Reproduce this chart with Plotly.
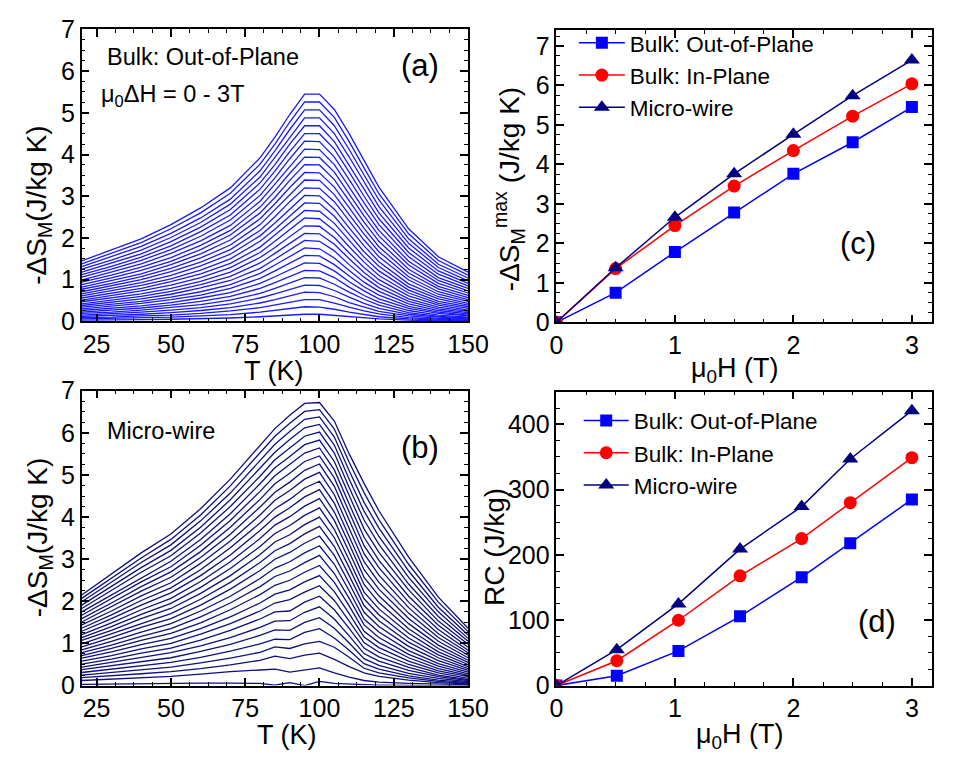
import plotly.graph_objects as go

W, H = 954, 767
FONT = "Liberation Sans, Arial, Helvetica, sans-serif"

# ---------------- data ----------------
# temperature grid (K) for panels (a) and (b)
T = [20, 30, 40, 50, 60, 70, 80, 85, 90, 95, 100, 105, 110, 115, 120, 130, 140, 150]
# applied field change of each curve (T)
FIELDS = [0.1, 0.2, 0.3, 0.4, 0.5, 0.6, 0.7, 0.8, 0.9, 1.0,
          1.1, 1.2, 1.3, 1.4, 1.5, 1.6, 1.7, 1.8, 1.9, 2.0,
          2.1, 2.2, 2.3, 2.4, 2.5, 2.6, 2.7, 2.8, 2.9, 3.0]

# (a) Bulk out-of-plane: -dS_M (J/kg K), one row per field
SA = [
    [0.03, 0.03, 0.04, 0.05, 0.06, 0.08, 0.11, 0.13, 0.15, 0.17, 0.17, 0.14, 0.11, 0.08, 0.06, 0.03, 0.01, 0.01],
    [0.06, 0.07, 0.08, 0.10, 0.13, 0.16, 0.22, 0.26, 0.30, 0.35, 0.34, 0.29, 0.22, 0.16, 0.11, 0.06, 0.03, 0.02],
    [0.09, 0.10, 0.13, 0.15, 0.19, 0.25, 0.33, 0.39, 0.46, 0.52, 0.52, 0.44, 0.34, 0.25, 0.18, 0.09, 0.05, 0.03],
    [0.12, 0.14, 0.17, 0.21, 0.26, 0.33, 0.44, 0.52, 0.61, 0.70, 0.69, 0.59, 0.45, 0.34, 0.24, 0.13, 0.07, 0.05],
    [0.15, 0.18, 0.22, 0.27, 0.33, 0.42, 0.56, 0.66, 0.76, 0.87, 0.86, 0.74, 0.58, 0.43, 0.31, 0.17, 0.10, 0.06],
    [0.19, 0.22, 0.27, 0.33, 0.40, 0.51, 0.67, 0.79, 0.92, 1.05, 1.04, 0.89, 0.70, 0.53, 0.39, 0.21, 0.12, 0.08],
    [0.22, 0.27, 0.32, 0.39, 0.48, 0.60, 0.79, 0.93, 1.08, 1.22, 1.21, 1.05, 0.82, 0.62, 0.46, 0.26, 0.15, 0.10],
    [0.26, 0.31, 0.37, 0.45, 0.56, 0.69, 0.91, 1.07, 1.24, 1.40, 1.39, 1.21, 0.95, 0.73, 0.54, 0.31, 0.19, 0.13],
    [0.30, 0.36, 0.43, 0.52, 0.63, 0.79, 1.03, 1.21, 1.39, 1.58, 1.57, 1.36, 1.09, 0.83, 0.63, 0.36, 0.22, 0.15],
    [0.34, 0.41, 0.48, 0.58, 0.71, 0.88, 1.15, 1.35, 1.55, 1.76, 1.74, 1.52, 1.22, 0.94, 0.72, 0.42, 0.26, 0.18],
    [0.38, 0.46, 0.54, 0.65, 0.80, 0.98, 1.27, 1.49, 1.72, 1.94, 1.92, 1.69, 1.36, 1.06, 0.81, 0.48, 0.30, 0.21],
    [0.42, 0.51, 0.60, 0.72, 0.88, 1.08, 1.40, 1.63, 1.88, 2.11, 2.10, 1.85, 1.50, 1.17, 0.90, 0.54, 0.34, 0.24],
    [0.47, 0.56, 0.66, 0.79, 0.96, 1.18, 1.53, 1.77, 2.04, 2.29, 2.28, 2.01, 1.64, 1.29, 1.00, 0.61, 0.39, 0.27],
    [0.51, 0.62, 0.73, 0.87, 1.05, 1.29, 1.65, 1.92, 2.20, 2.48, 2.46, 2.18, 1.79, 1.42, 1.10, 0.68, 0.43, 0.31],
    [0.56, 0.67, 0.79, 0.95, 1.14, 1.39, 1.78, 2.07, 2.37, 2.66, 2.64, 2.35, 1.94, 1.54, 1.21, 0.75, 0.48, 0.35],
    [0.61, 0.73, 0.86, 1.02, 1.23, 1.50, 1.92, 2.21, 2.53, 2.84, 2.83, 2.52, 2.09, 1.67, 1.32, 0.82, 0.54, 0.39],
    [0.66, 0.79, 0.93, 1.10, 1.33, 1.61, 2.05, 2.36, 2.70, 3.02, 3.01, 2.69, 2.24, 1.81, 1.43, 0.90, 0.59, 0.43],
    [0.71, 0.85, 1.00, 1.19, 1.42, 1.72, 2.18, 2.51, 2.87, 3.20, 3.19, 2.87, 2.40, 1.95, 1.55, 0.99, 0.65, 0.48],
    [0.77, 0.91, 1.07, 1.27, 1.52, 1.83, 2.32, 2.67, 3.04, 3.39, 3.38, 3.04, 2.56, 2.09, 1.67, 1.07, 0.71, 0.52],
    [0.82, 0.98, 1.14, 1.36, 1.62, 1.95, 2.46, 2.82, 3.21, 3.57, 3.56, 3.22, 2.72, 2.23, 1.79, 1.16, 0.78, 0.57],
    [0.88, 1.04, 1.22, 1.44, 1.72, 2.07, 2.60, 2.97, 3.38, 3.76, 3.75, 3.40, 2.89, 2.38, 1.92, 1.25, 0.84, 0.62],
    [0.94, 1.11, 1.30, 1.53, 1.82, 2.18, 2.74, 3.13, 3.55, 3.94, 3.93, 3.58, 3.05, 2.53, 2.05, 1.35, 0.91, 0.68],
    [0.99, 1.18, 1.38, 1.63, 1.93, 2.30, 2.88, 3.29, 3.72, 4.13, 4.12, 3.76, 3.22, 2.68, 2.18, 1.44, 0.98, 0.73],
    [1.06, 1.25, 1.46, 1.72, 2.04, 2.43, 3.02, 3.44, 3.90, 4.32, 4.31, 3.94, 3.40, 2.84, 2.32, 1.55, 1.05, 0.79],
    [1.12, 1.32, 1.54, 1.81, 2.15, 2.55, 3.17, 3.60, 4.07, 4.50, 4.50, 4.13, 3.58, 3.00, 2.46, 1.65, 1.13, 0.85],
    [1.18, 1.40, 1.62, 1.91, 2.26, 2.68, 3.32, 3.76, 4.25, 4.69, 4.69, 4.31, 3.75, 3.17, 2.60, 1.76, 1.21, 0.91],
    [1.25, 1.47, 1.71, 2.01, 2.37, 2.81, 3.46, 3.93, 4.42, 4.88, 4.88, 4.50, 3.94, 3.34, 2.75, 1.87, 1.29, 0.97],
    [1.31, 1.55, 1.80, 2.11, 2.48, 2.93, 3.61, 4.09, 4.60, 5.07, 5.07, 4.69, 4.12, 3.51, 2.91, 1.98, 1.37, 1.04],
    [1.38, 1.63, 1.89, 2.22, 2.60, 3.07, 3.77, 4.25, 4.78, 5.26, 5.26, 4.89, 4.31, 3.68, 3.06, 2.10, 1.46, 1.11],
    [1.45, 1.71, 1.98, 2.32, 2.72, 3.20, 3.92, 4.42, 4.96, 5.45, 5.45, 5.08, 4.50, 3.86, 3.22, 2.22, 1.55, 1.18],
]

# (b) Micro-wire: -dS_M (J/kg K), one row per field
SB = [
    [0.03, 0.04, 0.04, 0.05, 0.06, 0.06, 0.05, 0.01, 0.07, 0.00, 0.10, 0.05, 0.03, 0.02, 0.01, 0.00, 0.00, 0.00],
    [0.12, 0.15, 0.19, 0.22, 0.27, 0.33, 0.37, 0.39, 0.32, 0.37, 0.42, 0.30, 0.20, 0.12, 0.08, 0.05, 0.03, 0.02],
    [0.19, 0.23, 0.28, 0.33, 0.40, 0.49, 0.60, 0.70, 0.64, 0.72, 0.77, 0.62, 0.45, 0.30, 0.22, 0.13, 0.07, 0.04],
    [0.25, 0.31, 0.38, 0.44, 0.54, 0.65, 0.79, 0.92, 0.88, 0.99, 1.05, 0.91, 0.67, 0.41, 0.30, 0.18, 0.10, 0.05],
    [0.31, 0.39, 0.47, 0.55, 0.67, 0.82, 0.99, 1.10, 1.09, 1.26, 1.35, 1.13, 0.84, 0.52, 0.39, 0.23, 0.13, 0.07],
    [0.38, 0.47, 0.57, 0.66, 0.81, 0.98, 1.19, 1.32, 1.31, 1.50, 1.61, 1.36, 1.01, 0.64, 0.48, 0.29, 0.17, 0.09],
    [0.44, 0.55, 0.67, 0.78, 0.94, 1.14, 1.38, 1.53, 1.54, 1.74, 1.87, 1.58, 1.18, 0.76, 0.58, 0.36, 0.21, 0.12],
    [0.51, 0.63, 0.77, 0.89, 1.08, 1.31, 1.58, 1.75, 1.77, 1.98, 2.12, 1.80, 1.36, 0.89, 0.68, 0.43, 0.25, 0.14],
    [0.58, 0.71, 0.87, 1.00, 1.22, 1.47, 1.77, 1.96, 2.04, 2.22, 2.37, 2.02, 1.53, 1.02, 0.79, 0.50, 0.30, 0.17],
    [0.65, 0.80, 0.97, 1.12, 1.35, 1.63, 1.96, 2.17, 2.27, 2.46, 2.61, 2.23, 1.71, 1.15, 0.90, 0.58, 0.35, 0.21],
    [0.71, 0.88, 1.07, 1.24, 1.49, 1.80, 2.16, 2.38, 2.50, 2.69, 2.85, 2.45, 1.89, 1.29, 1.02, 0.66, 0.40, 0.24],
    [0.78, 0.96, 1.17, 1.35, 1.63, 1.96, 2.35, 2.59, 2.72, 2.92, 3.09, 2.66, 2.07, 1.44, 1.14, 0.74, 0.46, 0.28],
    [0.85, 1.05, 1.27, 1.47, 1.77, 2.12, 2.54, 2.79, 2.94, 3.15, 3.32, 2.88, 2.25, 1.58, 1.27, 0.83, 0.52, 0.32],
    [0.92, 1.14, 1.38, 1.59, 1.91, 2.29, 2.73, 3.00, 3.16, 3.38, 3.55, 3.09, 2.43, 1.74, 1.40, 0.93, 0.59, 0.36],
    [0.99, 1.23, 1.48, 1.71, 2.05, 2.45, 2.92, 3.20, 3.37, 3.60, 3.78, 3.30, 2.61, 1.90, 1.54, 1.03, 0.66, 0.40],
    [1.07, 1.31, 1.59, 1.83, 2.19, 2.61, 3.11, 3.41, 3.58, 3.82, 4.00, 3.51, 2.80, 2.06, 1.68, 1.13, 0.73, 0.45],
    [1.14, 1.40, 1.69, 1.95, 2.33, 2.78, 3.30, 3.61, 3.80, 4.04, 4.22, 3.71, 2.98, 2.22, 1.82, 1.24, 0.80, 0.50],
    [1.21, 1.49, 1.80, 2.07, 2.47, 2.94, 3.49, 3.81, 4.01, 4.26, 4.44, 3.92, 3.17, 2.40, 1.97, 1.35, 0.88, 0.55],
    [1.29, 1.59, 1.91, 2.20, 2.61, 3.10, 3.68, 4.00, 4.22, 4.48, 4.65, 4.12, 3.36, 2.57, 2.13, 1.47, 0.96, 0.60],
    [1.36, 1.68, 2.02, 2.32, 2.75, 3.27, 3.86, 4.20, 4.42, 4.69, 4.85, 4.33, 3.54, 2.75, 2.29, 1.59, 1.05, 0.66],
    [1.44, 1.77, 2.13, 2.44, 2.90, 3.43, 4.05, 4.40, 4.63, 4.90, 5.06, 4.53, 3.73, 2.94, 2.45, 1.72, 1.14, 0.72],
    [1.51, 1.87, 2.24, 2.57, 3.04, 3.59, 4.24, 4.59, 4.83, 5.11, 5.26, 4.73, 3.93, 3.13, 2.62, 1.85, 1.23, 0.78],
    [1.59, 1.96, 2.35, 2.70, 3.18, 3.76, 4.42, 4.79, 5.04, 5.32, 5.45, 4.93, 4.12, 3.32, 2.80, 1.98, 1.33, 0.84],
    [1.67, 2.06, 2.46, 2.82, 3.33, 3.92, 4.61, 4.98, 5.24, 5.52, 5.64, 5.12, 4.31, 3.52, 2.97, 2.12, 1.43, 0.91],
    [1.75, 2.15, 2.57, 2.95, 3.47, 4.08, 4.79, 5.17, 5.44, 5.72, 5.83, 5.32, 4.51, 3.72, 3.16, 2.27, 1.53, 0.98],
    [1.83, 2.25, 2.69, 3.08, 3.62, 4.25, 4.97, 5.36, 5.64, 5.92, 6.02, 5.52, 4.70, 3.93, 3.35, 2.41, 1.64, 1.05],
    [1.91, 2.35, 2.80, 3.21, 3.76, 4.41, 5.16, 5.54, 5.84, 6.12, 6.20, 5.71, 4.90, 4.14, 3.54, 2.57, 1.75, 1.12],
    [1.99, 2.45, 2.92, 3.34, 3.91, 4.57, 5.34, 5.73, 6.03, 6.32, 6.38, 5.90, 5.10, 4.35, 3.74, 2.72, 1.86, 1.20],
    [2.07, 2.55, 3.03, 3.47, 4.05, 4.74, 5.52, 5.92, 6.23, 6.51, 6.55, 6.09, 5.30, 4.58, 3.94, 2.88, 1.98, 1.28],
    [2.15, 2.65, 3.15, 3.60, 4.20, 4.90, 5.70, 6.10, 6.42, 6.70, 6.72, 6.28, 5.50, 4.80, 4.15, 3.05, 2.10, 1.36],
]

# (c) maximum entropy change vs field
H_C = [0, 0.5, 1.0, 1.5, 2.0, 2.5, 3.0]
SMAX_OOP = [0, 0.75, 1.78, 2.78, 3.76, 4.56, 5.45]
SMAX_IP = [0, 1.36, 2.45, 3.45, 4.35, 5.22, 6.04]
SMAX_MW = [0, 1.38, 2.66, 3.76, 4.76, 5.74, 6.64]

# (d) refrigerant capacity vs field
H_D = [0, 0.51, 1.03, 1.55, 2.07, 2.48, 3.0]
RC_OOP = [0, 15, 53, 106, 166, 218, 285]
RC_IP = [0, 38, 100, 168, 225, 280, 349]
RC_MW = [0, 55, 125, 209, 274, 347, 421]

SERIES_NAMES = ["Bulk: Out-of-Plane", "Bulk: In-Plane", "Micro-wire"]

# ---------------- styles ----------------
C_A = "rgb(25,25,255)"
C_B = "rgb(15,15,125)"
C_OOP = "#0000ff"
C_IP = "#ff0000"
C_MW = "#000080"


def px_x(p):
    return p / W


def px_y(p):
    return 1 - p / H


fig = go.Figure()

for row in SA:
    fig.add_trace(go.Scatter(x=T, y=row, mode="lines", line=dict(color=C_A, width=1.3),
                             showlegend=False, xaxis="x", yaxis="y", hoverinfo="skip"))
for row in SB:
    fig.add_trace(go.Scatter(x=T, y=row, mode="lines", line=dict(color=C_B, width=1.3),
                             showlegend=False, xaxis="x2", yaxis="y2", hoverinfo="skip"))

specs = [
    (SMAX_OOP, RC_OOP, C_OOP, "square", 12),
    (SMAX_IP, RC_IP, C_IP, "circle", 13),
    (SMAX_MW, RC_MW, C_MW, "triangle-up", 14),
]
for (sm, rc, col, sym, ms), name in zip(specs, SERIES_NAMES):
    fig.add_trace(go.Scatter(x=H_C, y=sm, mode="lines+markers", name=name,
                             line=dict(color=col, width=1.5),
                             marker=dict(symbol=sym, size=ms, color=col),
                             xaxis="x3", yaxis="y3", legend="legend"))
for (sm, rc, col, sym, ms), name in zip(specs, SERIES_NAMES):
    fig.add_trace(go.Scatter(x=H_D, y=rc, mode="lines+markers", name=name,
                             line=dict(color=col, width=1.5),
                             marker=dict(symbol=sym, size=ms, color=col),
                             xaxis="x4", yaxis="y4", legend="legend2"))

TICKFONT = dict(family=FONT, size=25, color="black")


def ax(rng, dtick, mdtick, dom, anchor, tick0=0):
    return dict(range=rng, domain=dom, anchor=anchor, dtick=dtick, tick0=tick0,
                showline=True, linecolor="black", linewidth=1.5, mirror="allticks",
                ticks="inside", ticklen=8, tickwidth=1.5, tickcolor="black",
                showgrid=False, zeroline=False, tickfont=TICKFONT,
                minor=dict(ticks="inside", ticklen=4, tickwidth=1.2, tickcolor="black",
                           dtick=mdtick, tick0=tick0, showgrid=False))


XL = [px_x(77), px_x(475)]
XR = [px_x(566), px_x(953)]
YA = [px_y(319), px_y(16)]
YB = [px_y(697), px_y(391)]
YC = [px_y(320), px_y(16.7)]
YD = [px_y(697), px_y(392)]

LEGFONT = dict(family=FONT, size=22.5, color="black")

fig.update_layout(
    width=W, height=H,
    margin=dict(l=0, r=0, t=0, b=0),
    paper_bgcolor="white", plot_bgcolor="white",
    font=dict(family=FONT, color="black"),
    xaxis=ax([20, 150], 25, 6.25, XL, "y", tick0=25),
    yaxis=ax([0, 7], 1, 0.25, YA, "x"),
    xaxis2=ax([20, 150], 25, 6.25, XL, "y2", tick0=25),
    yaxis2=ax([0, 7], 1, 0.25, YB, "x2"),
    xaxis3=ax([0, 3.17], 1, 0.25, XR, "y3"),
    yaxis3=ax([0, 7.4], 1, 0.25, YC, "x3"),
    xaxis4=ax([0, 3.17], 1, 0.25, XR, "y4"),
    yaxis4=ax([0, 450], 100, 25, YD, "x4"),
    legend=dict(x=px_x(584), y=px_y(8), xanchor="left", yanchor="top",
                bgcolor="rgba(0,0,0,0)", font=LEGFONT,
                tracegroupgap=0, itemwidth=46),
    legend2=dict(x=px_x(589), y=px_y(400), xanchor="left", yanchor="top",
                 bgcolor="rgba(0,0,0,0)", font=LEGFONT,
                 tracegroupgap=0, itemwidth=45),
)

ann = []


def add_text(text, x, y, size, xanchor="center", yanchor="middle", angle=0):
    ann.append(dict(text=text, x=px_x(x), y=px_y(y), xref="paper", yref="paper",
                    xanchor=xanchor, yanchor=yanchor, showarrow=False, textangle=angle,
                    font=dict(family=FONT, size=size, color="black")))


# axis titles
add_text("T (K)", 275, 371, 27)
add_text("T (K)", 288, 748, 27)
add_text("μ<sub>0</sub>H (T)", 750, 369, 27)
add_text("μ<sub>0</sub>H (T)", 755, 749, 27)
add_text("-ΔS<sub>M</sub>(J/kg K)", 33, 198, 28, angle=-90)
add_text("-ΔS<sub>M</sub>(J/kg K)", 33, 543, 28, angle=-90)
add_text("-ΔS<sub>M</sub><sup>max</sup> (J/kg K)", 518, 182, 28, angle=-90)
add_text("RC (J/kg)", 503, 553, 28, angle=-90)
# panel texts
add_text("Bulk: Out-of-Plane", 101, 45, 23.5, xanchor="left")
add_text("μ<sub>0</sub>ΔH = 0 - 3T", 95, 85, 23.5, xanchor="left")
add_text("Micro-wire", 101, 433, 23.5, xanchor="left")
add_text("(a)", 425, 53, 31)
add_text("(b)", 426, 450, 31)
add_text("(c)", 877, 238, 31)
add_text("(d)", 896, 630, 31)

fig.update_layout(annotations=ann)
fig.write_html("out.html")
